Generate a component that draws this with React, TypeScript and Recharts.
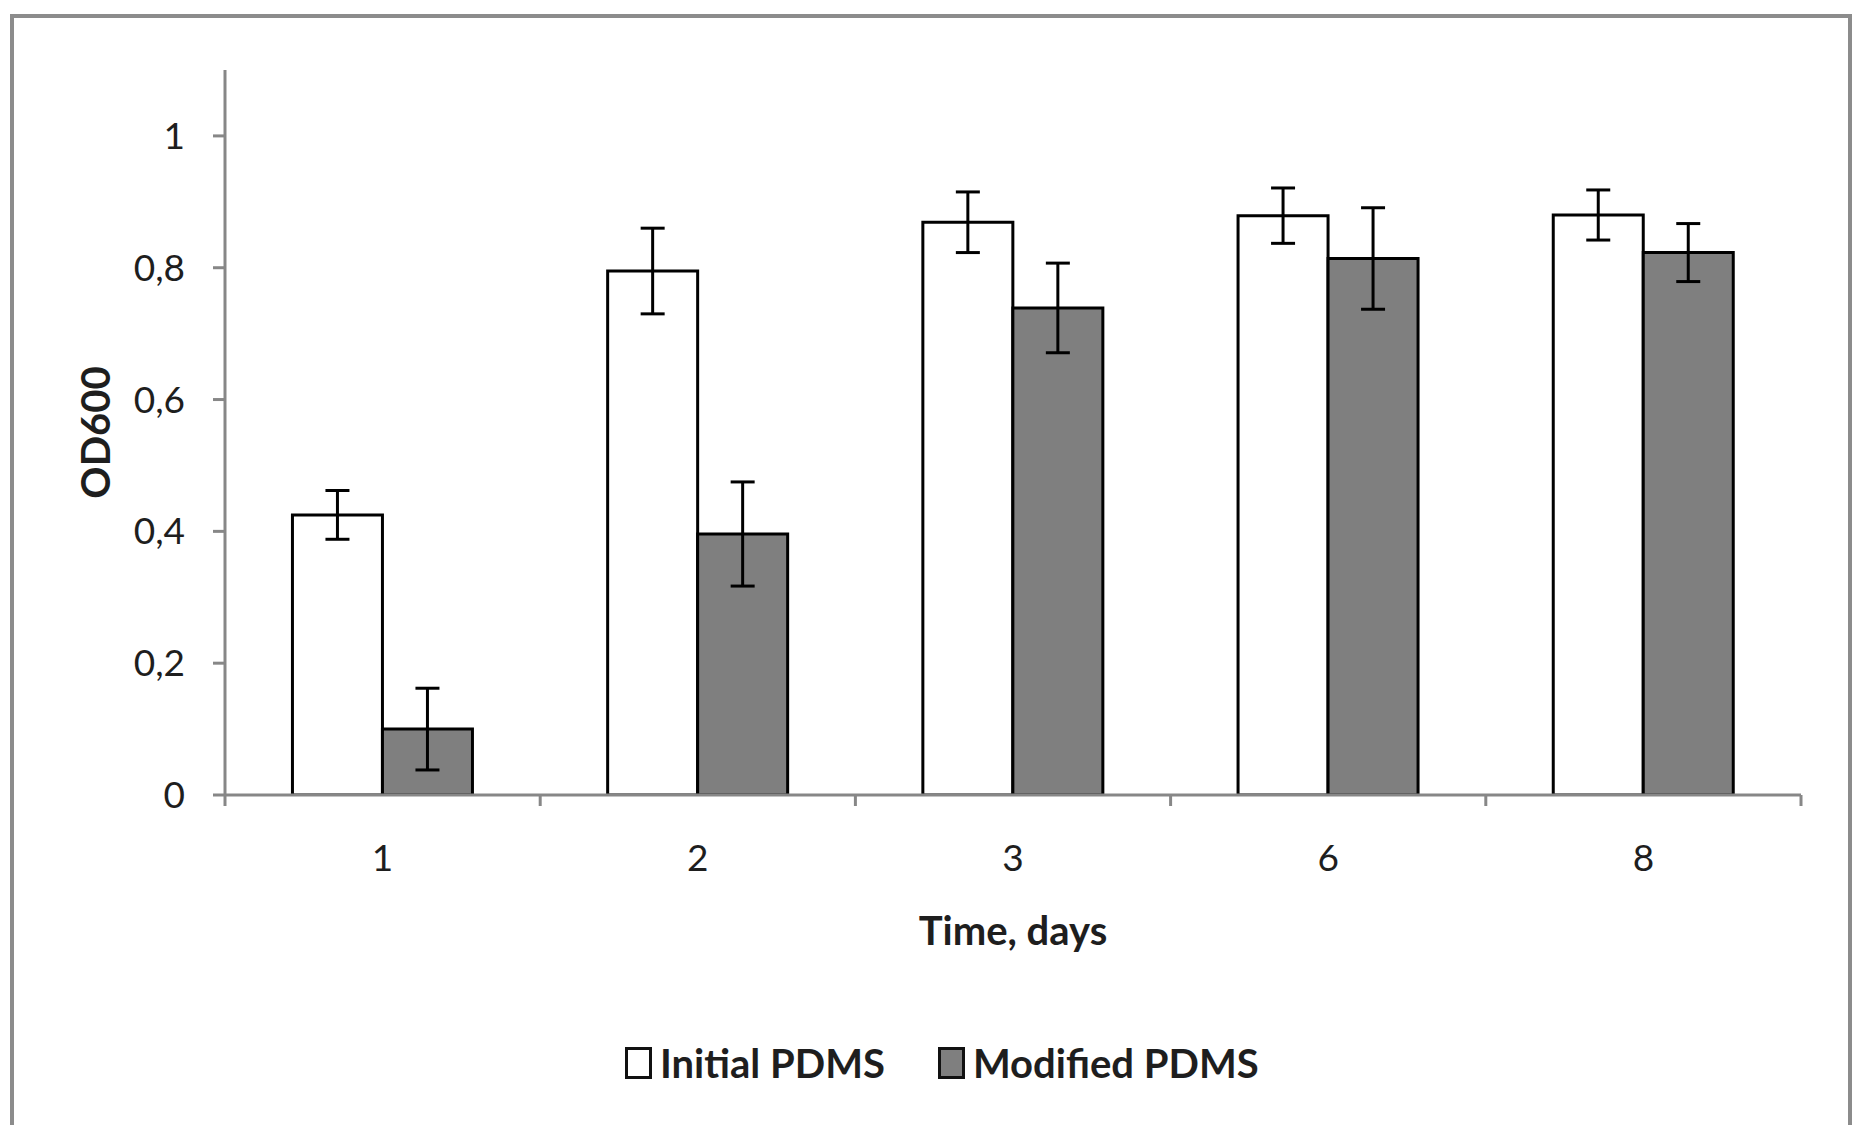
import { BarChart, Bar, XAxis, YAxis, ErrorBar, Label, Text } from 'recharts'

const CATEGORIES = ['1', '2', '3', '6', '8']
const SERIES = ['Initial PDMS', 'Modified PDMS']
const INITIAL = [0.425, 0.795, 0.869, 0.879, 0.88]
const INITIAL_ERR = [0.037, 0.065, 0.046, 0.042, 0.038]
const MODIFIED = [0.1, 0.396, 0.739, 0.814, 0.823]
const MODIFIED_ERR = [0.062, 0.079, 0.068, 0.077, 0.044]
const Y_TICKS = [0, 0.2, 0.4, 0.6, 0.8, 1]

const FILLS = ['#ffffff', '#7f7f7f']
const AXIS_GRAY = '#878787'
const TEXT = '#1e1e1e'
const FONT = 'Lato, "Open Sans", sans-serif'
const LABEL_GAP = 50

const data = CATEGORIES.map((day, i) => ({
  day,
  initial: INITIAL[i],
  initialErr: INITIAL_ERR[i],
  modified: MODIFIED[i],
  modifiedErr: MODIFIED_ERR[i],
}))

const fmt = (v: number) => String(v).replace('.', ',')

// Excel style: label in the middle, tick marks on the category boundaries
function DayTick(props: any) {
  const { x, y, payload, width, visibleTicksCount, index } = props
  const band = width / visibleTicksCount
  const axisY = y - LABEL_GAP
  const edges = [x - band / 2]
  if (index === visibleTicksCount - 1) edges.push(x + band / 2)
  return (
    <g>
      {edges.map((ex) => (
        <line key={ex} x1={ex} x2={ex} y1={axisY} y2={axisY + 11} stroke={AXIS_GRAY} strokeWidth={3} />
      ))}
      <Text x={x} y={y} textAnchor="middle" verticalAnchor="start" fill={TEXT} fontSize={37} fontFamily={FONT}>
        {payload.value}
      </Text>
    </g>
  )
}

function LegendItem({ label, fill }: { label: string; fill: string }) {
  return (
    <div style={{ display: 'flex', alignItems: 'center', gap: 8 }}>
      <div style={{ width: 21, height: 26, border: '3px solid #111', background: fill }} />
      <span style={{ fontFamily: FONT, fontWeight: 700, fontSize: 40, color: TEXT, lineHeight: 1 }}>
        {label}
      </span>
    </div>
  )
}

export default function App() {
  return (
    <div style={{ position: 'absolute', left: 0, top: 0, width: 1859, height: 1125, background: '#fff', overflow: 'hidden' }}>
      <div
        style={{
          position: 'absolute',
          left: 10,
          top: 14,
          width: 1834,
          height: 1200,
          border: `4px solid #8c8c8c`,
          borderBottom: 'none',
        }}
      />
      <BarChart
        width={1859}
        height={1125}
        data={data}
        margin={{ top: 70, right: 58, left: 125, bottom: 329 }}
        barCategoryGap="21.4%"
        barGap={0}
        style={{ position: 'absolute', left: 0, top: 0, fontFamily: FONT }}
      >
        <XAxis
          dataKey="day"
          height={1}
          axisLine={{ stroke: AXIS_GRAY, strokeWidth: 3 }}
          tickLine={false}
          tickSize={0}
          tickMargin={LABEL_GAP}
          interval={0}
          tick={<DayTick />}
        >
          <Label
            content={({ viewBox }: any) => (
              <text
                x={viewBox.x + viewBox.width / 2}
                y={viewBox.y + 150}
                textAnchor="middle"
                fill={TEXT}
                fontSize={40}
                fontWeight={700}
                fontFamily={FONT}
              >
                Time, days
              </text>
            )}
          />
        </XAxis>
        <YAxis
          width={100}
          domain={[0, 1.1]}
          ticks={Y_TICKS}
          allowDataOverflow
          tickFormatter={fmt}
          tickSize={12}
          tickMargin={28}
          tick={{ fill: TEXT, fontSize: 37, fontFamily: FONT }}
          tickLine={{ stroke: AXIS_GRAY, strokeWidth: 3 }}
          axisLine={{ stroke: AXIS_GRAY, strokeWidth: 3 }}
        >
          <Label
            content={({ viewBox }: any) => {
              const x = viewBox.x - 15
              const y = viewBox.y + viewBox.height / 2
              return (
                <text
                  x={x}
                  y={y}
                  transform={`rotate(-90 ${x} ${y})`}
                  textAnchor="middle"
                  fill={TEXT}
                  fontSize={40}
                  fontWeight={700}
                  fontFamily={FONT}
                >
                  OD600
                </text>
              )
            }}
          />
        </YAxis>
        <Bar dataKey="initial" name={SERIES[0]} fill={FILLS[0]} stroke="#000" strokeWidth={3} isAnimationActive={false}>
          <ErrorBar dataKey="initialErr" width={12} stroke="#000" strokeWidth={3} />
        </Bar>
        <Bar dataKey="modified" name={SERIES[1]} fill={FILLS[1]} stroke="#000" strokeWidth={3} isAnimationActive={false}>
          <ErrorBar dataKey="modifiedErr" width={12} stroke="#000" strokeWidth={3} />
        </Bar>
      </BarChart>
      <div
        style={{
          position: 'absolute',
          left: 625,
          top: 1043,
          display: 'flex',
          gap: 53,
        }}
      >
        {SERIES.map((s, i) => (
          <LegendItem key={s} label={s} fill={FILLS[i]} />
        ))}
      </div>
    </div>
  )
}
